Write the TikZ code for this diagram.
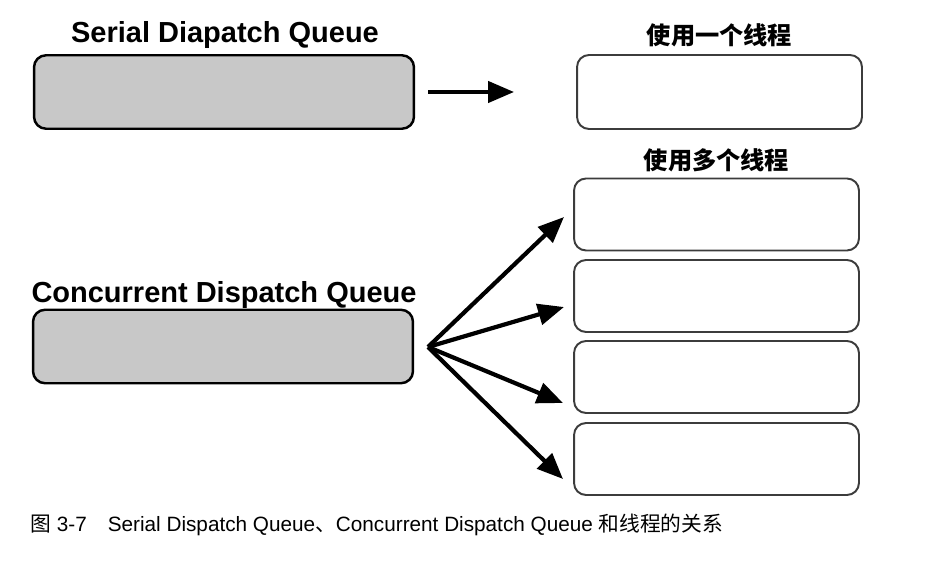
\documentclass[tikz,border=0pt]{standalone}
\usepackage{fontspec}
\usepackage{xcolor}
\usetikzlibrary{arrows.meta}
\setsansfont{Liberation Sans}
\newfontfamily\cjk{Noto Sans CJK SC}
\definecolor{queuegray}{RGB}{200,200,200}
\definecolor{edge}{RGB}{60,60,60}

\begin{document}
\begin{tikzpicture}[x=0.02cm,y=-0.02cm,font=\sffamily,
  q/.style={draw=black,line width=1.4pt,rounded corners=0.24cm,fill=queuegray,minimum width=7.6cm,minimum height=1.47cm,inner sep=0pt},
  th/.style={draw=edge,line width=1.1pt,rounded corners=0.24cm,fill=white,minimum width=5.7cm,minimum height=1.44cm,inner sep=0pt},
  ttl/.style={font=\sffamily\bfseries\fontsize{16.5}{18}\selectfont,inner sep=0pt,anchor=base},
  cn/.style={font=\cjk\bfseries\fontsize{13.8}{15}\selectfont,inner sep=0pt},
  arr/.style={-{Triangle[length=0.52cm,width=0.42cm]},line width=2.4pt}]
  \useasboundingbox (0,0) rectangle (947,567);
  % queues
  \node[ttl] (sqt) at (225,43) {Serial Diapatch Queue};
  \node[q]   (sq)  at (224,92) {};
  \node[ttl] (cqt) at (224,303) {Concurrent Dispatch Queue};
  \node[q]   (cq)  at (223,346.5) {};
  % threads
  \node[cn]  (onet) at (719.5,35) {使用一个线程};
  \node[th,minimum height=1.48cm] (one) at (719.5,92) {};
  \node[cn]  (mult) at (716.5,160) {使用多个线程};
  \node[th]  (t1) at (716.5,214.5) {};
  \node[th]  (t2) at (716.5,296) {};
  \node[th]  (t3) at (716.5,377) {};
  \node[th]  (t4) at (716.5,459) {};
  % arrows
  \draw[arr,shorten <=0.26cm,shorten >=1.24cm] (sq) -- (one);
  \coordinate (hub) at (428,347);
  \coordinate (e1) at (564,217);
  \coordinate (e2) at (564,307);
  \coordinate (e3) at (563,403);
  \coordinate (e4) at (563,479);
  \foreach \e in {e1,e2,e3,e4}
    \draw[arr] (hub) -- (\e);
  % caption
  \node[anchor=base west,inner sep=0pt,font=\sffamily\fontsize{11.8}{13}\selectfont] (cap) at (30,532)
    {{\cjk 图} 3-7\hspace{0.42cm}Serial Dispatch Queue{\cjk 、}Concurrent Dispatch Queue {\cjk 和线程的关系}};
\end{tikzpicture}
\end{document}
